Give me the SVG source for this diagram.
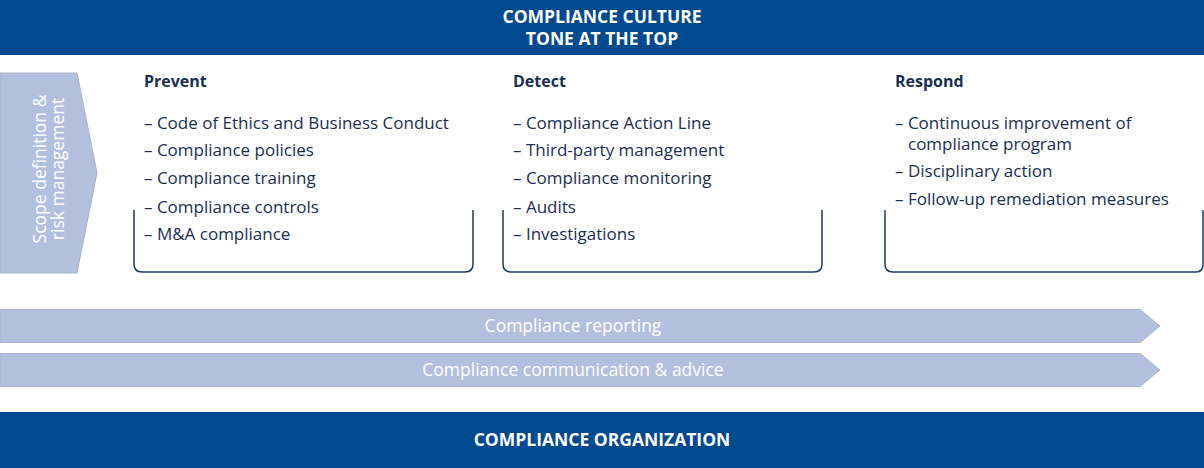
<svg xmlns="http://www.w3.org/2000/svg" width="1204" height="468" viewBox="0 0 1204 468">
<style>
.bar{fill:#004a8f}
.bart{font-family:"Open Sans",sans-serif;font-weight:bold;font-size:17.5px;fill:#ffffff;text-anchor:middle}
.arrow{fill:#b3c0dd;stroke:#a9b4cc;stroke-width:1}
.arrt{font-family:"Open Sans",sans-serif;font-size:17.5px;fill:#ffffff;text-anchor:middle}
.head{font-family:"Open Sans",sans-serif;font-weight:bold;font-size:16px;fill:#1b3050}
.item{font-family:"Open Sans",sans-serif;font-size:17px;fill:#1b3050}
.brk{fill:none;stroke:#1f3d62;stroke-width:1.5}
</style>
<rect width="1204" height="468" fill="#ffffff"/>
<g id="culture">
<rect class="bar" x="0" y="0" width="1204" height="55"/>
<text class="bart" x="602" y="23">COMPLIANCE CULTURE</text>
<text class="bart" x="602" y="45">TONE AT THE TOP</text>
</g>
<g id="scope">
<polygon class="arrow" points="0,73 77,73 97,173 77,273 0,273" stroke="none"/>
<text class="arrt" transform="translate(46,169) rotate(-90)" font-size="19.5">Scope definition &amp;</text>
<text class="arrt" transform="translate(64,169) rotate(-90)" font-size="19.5">risk management</text>
</g>
<g id="prevent">
<path class="brk" d="M134,210 V264 Q134,272 142,272 H465 Q473,272 473,264 V210"/>
<text class="head" x="144" y="87">Prevent</text>
<text class="item" x="144" y="129">– Code of Ethics and Business Conduct</text>
<text class="item" x="144" y="156">– Compliance policies</text>
<text class="item" x="144" y="184">– Compliance training</text>
<text class="item" x="144" y="213">– Compliance controls</text>
<text class="item" x="144" y="240">– M&amp;A compliance</text>
</g>
<g id="detect">
<path class="brk" d="M503,210 V264 Q503,272 511,272 H814 Q822,272 822,264 V210"/>
<text class="head" x="513" y="87">Detect</text>
<text class="item" x="513" y="129">– Compliance Action Line</text>
<text class="item" x="513" y="156">– Third-party management</text>
<text class="item" x="513" y="184">– Compliance monitoring</text>
<text class="item" x="513" y="213">– Audits</text>
<text class="item" x="513" y="240">– Investigations</text>
</g>
<g id="respond">
<path class="brk" d="M885,210 V264 Q885,272 893,272 H1196 Q1203,272 1203,264 V210"/>
<text class="head" x="895" y="87">Respond</text>
<text class="item" x="895" y="129">– Continuous improvement of</text>
<text class="item" x="908" y="150">compliance program</text>
<text class="item" x="895" y="177">– Disciplinary action</text>
<text class="item" x="895" y="205">– Follow-up remediation measures</text>
</g>
<g id="reporting">
<polygon class="arrow" points="0,309.5 1140,309.5 1160,326 1140,342.5 0,342.5"/>
<text class="arrt" x="573" y="332">Compliance reporting</text>
</g>
<g id="communication">
<polygon class="arrow" points="0,353.5 1140,353.5 1160,370 1140,386.5 0,386.5"/>
<text class="arrt" x="573" y="376">Compliance communication &amp; advice</text>
</g>
<g id="organization">
<rect class="bar" x="0" y="412" width="1204" height="56"/>
<text class="bart" x="602" y="446">COMPLIANCE ORGANIZATION</text>
</g>
<g id="connectors"></g>
</svg>
